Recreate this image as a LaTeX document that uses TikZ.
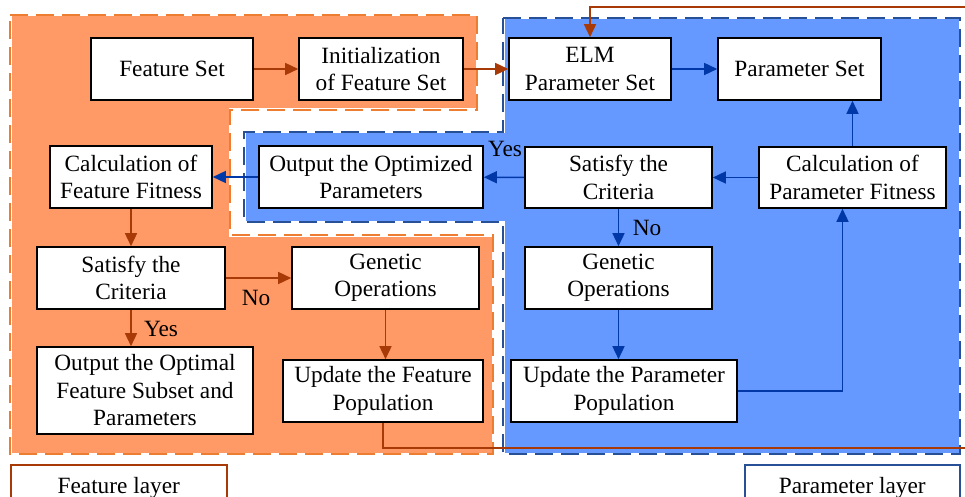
\documentclass[tikz,border=0pt]{standalone}
\usepackage{fontspec}
\setmainfont{Liberation Serif}
\usetikzlibrary{arrows.meta}
\definecolor{orfill}{RGB}{255,153,102}
\definecolor{ordash}{RGB}{237,125,49}
\definecolor{blfill}{RGB}{102,153,255}
\definecolor{bldash}{RGB}{40,80,150}
\definecolor{brline}{RGB}{168,58,8}
\definecolor{blline}{RGB}{0,56,168}
\newcommand\orpath{(10,15) -- (477,15) -- (477,110) -- (230,110) -- (230,235) -- (493,235) -- (493,454) -- (10,454) -- cycle}
\newcommand\blpath{(503,18) -- (960,18) -- (960,454) -- (503,454) -- (503,222) -- (244,222) -- (244,132) -- (503,132) -- cycle}
\begin{document}
\begin{tikzpicture}[x=1pt,y=-1pt,
  txt/.style={font=\fontsize{23.3}{27.5}\selectfont},
  box/.style={txt, draw=black, line width=1.6pt, fill=white, align=center, inner sep=0pt, minimum height=62pt},
  lbl/.style={txt, inner sep=0pt},
  fline/.style={draw=brline, line width=1.5pt},
  bline/.style={draw=blline, line width=1.5pt},
  farr/.style={fline, -{Triangle[length=13pt,width=12pt]}},
  barr/.style={bline, -{Triangle[length=13pt,width=12pt]}},
  regionw/.style={draw=white, line width=3pt},
  ordashed/.style={draw=ordash, line width=2pt, dash pattern=on 18pt off 8pt},
  bldashed/.style={draw=bldash, line width=2pt, dash pattern=on 18pt off 8pt},
  layerbox/.style={txt, line width=1.5pt, fill=white, inner sep=0pt, minimum height=46pt, anchor=north west}
]
\useasboundingbox (0,0) rectangle (965,497);
\clip (0,0) rectangle (965,497);

% regions
\fill[orfill] \orpath;
\draw[regionw] \orpath;
\draw[ordashed] \orpath;
\fill[blfill] \blpath;
\draw[regionw] \blpath;
\draw[bldashed] \blpath;

% boxes
\node[box, minimum width=162pt] (fs) at (172,69) {Feature Set};
\node[box, minimum width=164pt] (init) at (381,69) {Initialization\\of Feature Set};
\node[box, minimum width=162pt] (elm) at (590,69) {ELM\\Parameter Set};
\node[box, minimum width=163pt] (ps) at (799.5,69) {Parameter Set};
\node[box, minimum width=162pt] (cff) at (131,177) {Calculation of\\Feature Fitness};
\node[box, minimum width=224pt] (oop) at (371,177) {Output the Optimized\\Parameters};
\node[box, minimum width=187pt, minimum height=61pt] (sp) at (618.5,177.5) {Satisfy the\\Criteria};
\node[box, minimum width=187pt, minimum height=61pt] (cpf) at (852.5,177.5) {Calculation of\\Parameter Fitness};
\node[box, minimum width=188pt] (sf) at (131,278) {Satisfy the\\Criteria};
\node[box, minimum width=187pt] (gf) at (385.5,278) {Genetic\\Operations};
\node[box, minimum width=216pt, minimum height=87pt] (oos) at (145,390.5) {Output the Optimal\\Feature Subset and\\Parameters};
\node[box, minimum width=200pt] (upf) at (383,391) {Update the Feature\\Population};
\node[box, minimum width=187pt] (gp) at (618.5,278) {Genetic\\Operations};
\node[box, minimum width=226pt] (upp) at (624,391) {Update the Parameter\\Population};

% layer labels
\node[layerbox, draw=brline, minimum width=216pt] (fl) at (10,464) {Feature layer};
\node[layerbox, draw=bldash, minimum width=215pt] (pl) at (744,464) {Parameter layer};

% branch labels
\node[lbl] (yes1) at (505,149) {Yes};
\node[lbl] (no1) at (647,228) {No};
\node[lbl] (no2) at (256,298) {No};
\node[lbl] (yes2) at (161,329) {Yes};

% free ends of the inter-layer connector
\coordinate (re1) at (965,448);
\coordinate (re2) at (965,7);

% connectors
\draw[farr] (fs) -- (init);
\draw[farr] (init) -- (elm);
\draw[barr] (elm) -- (ps);
\draw[barr] (cpf.north) -- (cpf.north |- ps.south);
\draw[barr] (cpf) -- (sp);
\draw[barr] (sp) -- (oop);
\draw[barr] (oop) -- (cff);
\draw[farr] (cff) -- (sf);
\draw[farr] (sf) -- (gf);
\draw[farr] (sf.south) -- (sf.south |- oos.north);
\draw[farr] (gf.south) -- (gf.south |- upf.north);
\draw[barr] (sp) -- (gp);
\draw[barr] (gp.south) -- (gp.south |- upp.north);
\draw[barr] (upp.east) -| ([xshift=-10pt]cpf.south);
\draw[fline] (upf.south) |- (re1);
\draw[farr] (re2) -| (elm.north);
\end{tikzpicture}
\end{document}
